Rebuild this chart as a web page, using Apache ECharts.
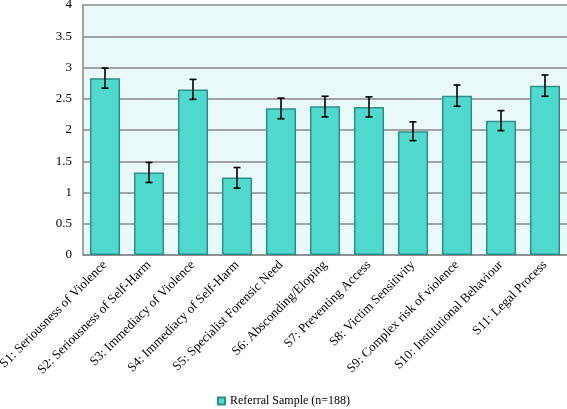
<!DOCTYPE html>
<html><head><meta charset="utf-8">
<script src="https://cdn.jsdelivr.net/npm/echarts@6/dist/echarts.min.js"></script>
<style>html,body{margin:0;padding:0;background:#fff}#c{width:567px;height:409px}</style>
</head><body><div id="c"></div>
<script>
const categories = ["S1: Seriousness of Violence","S2: Seriousness of Self-Harm","S3: Immediacy of Violence","S4: Immediacy of Self-Harm","S5: Specialist Forensic Need","S6: Absconding/Eloping","S7: Preventing Access","S8: Victim Sensitivity","S9: Complex risk of violence","S10: Institutional Behaviour","S11: Legal Process"];
const means = [2.83, 1.32, 2.65, 1.24, 2.35, 2.38, 2.37, 1.98, 2.55, 2.15, 2.71];
const errLow = [2.67, 1.16, 2.49, 1.07, 2.18, 2.21, 2.21, 1.83, 2.38, 1.99, 2.54];
const errHigh = [2.99, 1.48, 2.81, 1.40, 2.51, 2.54, 2.53, 2.13, 2.72, 2.31, 2.88];
const seriesName = "Referral Sample (n=188)";

const font = "'Liberation Serif', 'Times New Roman', serif";
const chart = echarts.init(document.getElementById('c'));
chart.setOption({
  animation: false,
  grid: {left: 83, right: 0, top: 5, bottom: 154, show: true, backgroundColor: '#e9f8f8', borderWidth: 0, outerBoundsMode: 'none', containLabel: false},
  legend: {
    data: [seriesName], left: 217, top: 395, itemWidth: 7, itemHeight: 7, itemGap: 3,
    icon: 'rect', padding: 0,
    textStyle: {fontFamily: font, fontSize: 12, color: '#000'}
  },
  xAxis: {
    type: 'category', data: categories,
    axisLine: {lineStyle: {color: '#888', width: 1.5}},
    axisTick: {show: false},
    axisLabel: {rotate: 45, fontFamily: font, fontSize: 13, color: '#000', margin: 8, interval: 0}
  },
  yAxis: {
    type: 'value', min: 0, max: 4, interval: 0.5,
    axisLine: {show: true, lineStyle: {color: '#888', width: 1.5}},
    axisTick: {show: false},
    splitLine: {lineStyle: {color: '#888', width: 1.5}},
    axisLabel: {fontFamily: font, fontSize: 13, color: '#000', margin: 11}
  },
  series: [
    {
      name: seriesName, type: 'bar', data: means, barWidth: 30,
      itemStyle: {color: '#4fdacd', borderColor: '#2b8f8b', borderWidth: 1.5},
      z: 2
    },
    {
      type: 'custom', z: 3,
      data: categories.map((c, i) => [i, errLow[i], errHigh[i]]),
      renderItem: function (params, api) {
        const lo = api.coord([api.value(0), api.value(1)]);
        const hi = api.coord([api.value(0), api.value(2)]);
        const w = 3.5;
        const st = {stroke: '#000', lineWidth: 1.6};
        return {type: 'group', children: [
          {type: 'line', shape: {x1: lo[0], y1: lo[1], x2: hi[0], y2: hi[1]}, style: st},
          {type: 'line', shape: {x1: lo[0]-w, y1: lo[1], x2: lo[0]+w, y2: lo[1]}, style: st},
          {type: 'line', shape: {x1: hi[0]-w, y1: hi[1], x2: hi[0]+w, y2: hi[1]}, style: st}
        ]};
      }
    }
  ]
});
</script></body></html>
